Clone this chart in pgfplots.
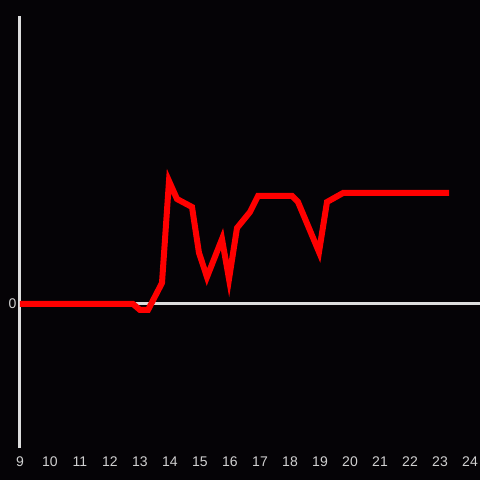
\documentclass[border=0pt]{standalone}
\usepackage{pgfplots}
\pgfplotsset{compat=1.18}
\usepackage{fontspec}
\setmainfont{Liberation Sans}
\definecolor{bg}{HTML}{050306}
\definecolor{axgray}{HTML}{DDDDDD}
\definecolor{lblgray}{HTML}{D0D0D0}
\begin{document}
\begin{tikzpicture}
\fill[bg] (-20bp,-32bp) rectangle (460bp,448bp);
\begin{axis}[
  scale only axis,
  width=460bp, height=432bp,
  xmin=9, xmax=24.3333, ymin=-144, ymax=288,
  axis line style={draw=none},
  xtick={9,10,...,24}, ytick={0},
  major tick length=0pt,
  tick label style={font=\fontsize{14bp}{16bp}\selectfont, text=lblgray},
  xticklabel style={yshift=-5bp},
  yticklabel style={xshift=0bp},
  /pgf/number format/assume math mode=true,
  clip=false,
]
\addplot[axgray, line width=3bp] coordinates {(9,-144) (9,288)};
\addplot[axgray, line width=3bp] coordinates {(9,0) (24.3333,0)};
\addplot[red, line width=6bp, line join=miter] coordinates {
(9,0) (12.767,0) (13.0,-6) (13.267,-6) (13.733,21) (13.967,123) (14.233,105)
(14.733,97) (14.967,51) (15.233,27) (15.733,65) (15.967,25) (16.233,76)
(16.667,92) (16.933,108) (18.067,108) (18.267,102) (18.967,52) (19.233,102)
(19.767,111) (23.3,111)
};
\end{axis}
\pgfresetboundingbox
\path (-20bp,-32bp) rectangle (460bp,448bp);
\end{tikzpicture}
\end{document}
